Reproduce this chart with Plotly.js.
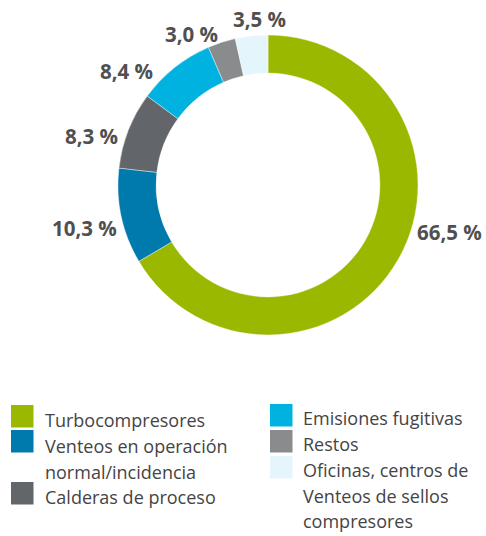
<!DOCTYPE html>
<html>
<head>
<meta charset="utf-8">
<script src="https://cdn.plot.ly/plotly-3.0.1.min.js"></script>
<style>
  html, body { margin: 0; padding: 0; background: #fff; }
  #chart { width: 486px; height: 536px; }
</style>
</head>
<body>
<div id="chart"></div>
<script>
'use strict';

// --- data ---
const categories = [
  'Turbocompresores',
  'Venteos en operación normal/incidencia',
  'Calderas de proceso',
  'Emisiones fugitivas',
  'Restos',
  'Oficinas, centros de Venteos de sellos compresores'
];
const shares = [66.5, 10.3, 8.3, 8.4, 3.0, 3.5];
const legendLines = [
  ['Turbocompresores'],
  ['Venteos en operación', 'normal/incidencia'],
  ['Calderas de proceso'],
  ['Emisiones fugitivas'],
  ['Restos'],
  ['Oficinas, centros de', 'Venteos de sellos', 'compresores']
];
const sliceColors = ['#9bb800', '#0079ad', '#626569', '#00b2e0', '#8a8b8d', '#e4f5fb'];

// --- layout helpers (pixel positions -> paper coords) ---
const W = 486, H = 536;
const px = x => x / W;
const py = y => 1 - y / H;

// percentage label centres, one per slice
const labelPos = [[449, 232], [84, 228], [91, 136], [127, 71], [191, 34], [259, 19]];
// legend: column x for squares / text, top y of each square, first line centre
const legendCol = [0, 0, 0, 1, 1, 1];
const colSquareX = [11, 270];
const colTextX = [43, 301];
const squareTop = [405, 430, 482, 404, 430, 456];
const firstLineY = [420, 446, 497, 418, 444, 470];
const LINE_H = 25.5, SQ = 22.5;

const fmt = v => v.toFixed(1).replace('.', ',') + ' %';

const annotations = [];
const shapes = [];

shares.forEach((v, i) => {
  annotations.push({
    xref: 'paper', yref: 'paper',
    x: px(labelPos[i][0]), y: py(labelPos[i][1]),
    xanchor: 'center', yanchor: 'middle',
    text: '<b>' + fmt(v) + '</b>', showarrow: false,
    font: { family: 'Open Sans, sans-serif', size: 20.5, color: '#505050' }
  });
});

categories.forEach((c, i) => {
  const col = legendCol[i];
  shapes.push({
    type: 'rect', xref: 'paper', yref: 'paper',
    x0: px(colSquareX[col]), x1: px(colSquareX[col] + SQ),
    y0: py(squareTop[i] + SQ), y1: py(squareTop[i]),
    fillcolor: sliceColors[i], line: { width: 0 }
  });
  legendLines[i].forEach((line, k) => {
    annotations.push({
      xref: 'paper', yref: 'paper',
      x: px(colTextX[col]), y: py(firstLineY[i] + k * LINE_H),
      xanchor: 'left', yanchor: 'middle',
      text: line, showarrow: false,
      font: { family: 'Open Sans, sans-serif', size: 18, color: '#444' }
    });
  });
});

const trace = {
  type: 'pie',
  labels: categories,
  values: shares,
  sort: false,
  direction: 'clockwise',
  rotation: 0,
  hole: 0.746,
  textinfo: 'none',
  marker: { colors: sliceColors, line: { color: '#ffffff', width: 0.4 } },
  domain: { x: [px(118), px(418)], y: [py(335), py(35)] },
  hoverinfo: 'label+percent'
};

Plotly.newPlot('chart', [trace], {
  width: W, height: H,
  margin: { l: 0, r: 0, t: 0, b: 0 },
  paper_bgcolor: '#ffffff',
  showlegend: false,
  annotations, shapes
}, { displayModeBar: false, staticPlot: true });
</script>
</body>
</html>
